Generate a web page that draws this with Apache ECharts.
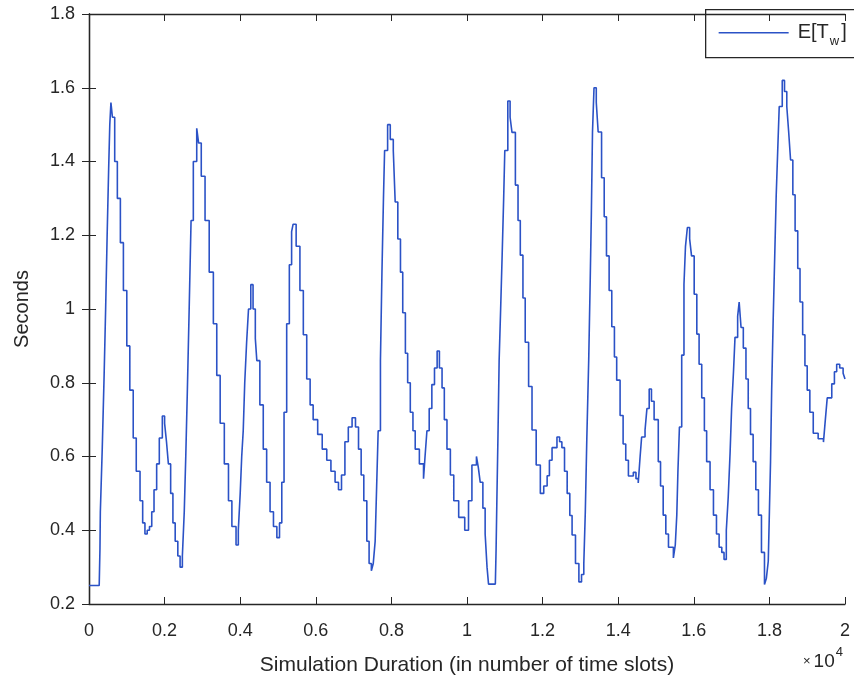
<!DOCTYPE html>
<html>
<head>
<meta charset="utf-8">
<script src="https://cdn.jsdelivr.net/npm/echarts@6/dist/echarts.min.js"></script>
<style>html,body{margin:0;padding:0;background:#fff}#c{width:854px;height:688px}</style>
</head>
<body>
<div id="c"></div>
<script>
// x in units of 10^4 time slots
const xTicks = [0,0.2,0.4,0.6,0.8,1,1.2,1.4,1.6,1.8,2];
const yTicks = [0.2,0.4,0.6,0.8,1,1.2,1.4,1.6,1.8];
const xs = [0,0.027,0.029,0.03,0.035,0.04,0.044,0.048,0.052,0.055,0.058,0.062,0.068,0.075,0.083,0.091,0.10,0.108,0.117,0.125,0.135,0.142,0.148,0.154,0.16,0.166,0.172,0.179,0.186,0.194,0.2,0.205,0.21,0.216,0.222,0.228,0.235,0.241,0.247,0.252,0.256,0.26,0.265,0.27,0.276,0.285,0.29,0.297,0.307,0.318,0.329,0.338,0.347,0.358,0.369,0.378,0.389,0.395,0.40,0.404,0.408,0.412,0.417,0.422,0.428,0.434,0.44,0.444,0.452,0.461,0.47,0.479,0.488,0.497,0.504,0.51,0.516,0.523,0.53,0.536,0.54,0.548,0.558,0.567,0.576,0.585,0.593,0.605,0.617,0.629,0.64,0.651,0.66,0.668,0.677,0.686,0.696,0.705,0.713,0.72,0.727,0.735,0.741,0.747,0.752,0.757,0.761,0.765,0.771,0.775,0.779,0.782,0.79,0.797,0.805,0.81,0.817,0.824,0.83,0.837,0.843,0.85,0.857,0.863,0.874,0.885,0.889,0.894,0.9,0.907,0.914,0.921,0.927,0.934,0.94,0.947,0.956,0.965,0.978,0.994,1.004,1.013,1.025,1.03,1.035,1.042,1.048,1.053,1.057,1.075,1.077,1.079,1.082,1.085,1.089,1.093,1.097,1.10,1.108,1.114,1.119,1.128,1.135,1.141,1.148,1.154,1.163,1.172,1.183,1.194,1.203,1.212,1.218,1.225,1.238,1.245,1.251,1.258,1.265,1.272,1.278,1.287,1.296,1.303,1.309,1.313,1.317,1.322,1.326,1.329,1.332,1.336,1.342,1.347,1.356,1.363,1.369,1.376,1.383,1.39,1.396,1.405,1.413,1.42,1.427,1.44,1.447,1.453,1.458,1.462,1.471,1.476,1.482,1.488,1.495,1.506,1.512,1.519,1.526,1.533,1.546,1.551,1.555,1.558,1.562,1.568,1.574,1.578,1.583,1.589,1.594,1.601,1.608,1.614,1.621,1.628,1.634,1.643,1.652,1.66,1.667,1.674,1.68,1.686,1.691,1.696,1.70,1.705,1.709,1.716,1.72,1.725,1.731,1.738,1.744,1.75,1.757,1.764,1.771,1.779,1.787,1.792,1.797,1.80,1.803,1.806,1.81,1.814,1.818,1.822,1.826,1.834,1.84,1.846,1.851,1.856,1.862,1.868,1.875,1.881,1.888,1.894,1.9,1.907,1.916,1.929,1.943,1.948,1.953,1.965,1.972,1.978,1.986,1.995,2.0];
const ys = [0.25,0.25,0.35,0.45,0.62,0.82,1.0,1.2,1.38,1.5,1.56,1.52,1.40,1.30,1.18,1.05,0.90,0.78,0.65,0.56,0.48,0.42,0.39,0.40,0.41,0.45,0.51,0.58,0.65,0.71,0.69,0.64,0.58,0.50,0.42,0.37,0.33,0.30,0.33,0.45,0.60,0.77,1.0,1.24,1.40,1.49,1.45,1.36,1.24,1.10,0.96,0.82,0.69,0.58,0.48,0.41,0.36,0.40,0.50,0.60,0.67,0.80,0.91,1.0,1.066,1.0,0.92,0.86,0.74,0.62,0.53,0.45,0.41,0.38,0.42,0.53,0.72,0.96,1.12,1.21,1.23,1.17,1.05,0.93,0.81,0.74,0.70,0.66,0.62,0.59,0.56,0.53,0.51,0.55,0.64,0.68,0.705,0.68,0.62,0.55,0.48,0.37,0.31,0.29,0.31,0.37,0.52,0.67,0.86,1.10,1.30,1.43,1.50,1.46,1.43,1.29,1.19,1.10,0.99,0.88,0.80,0.72,0.67,0.62,0.58,0.54,0.60,0.67,0.73,0.795,0.84,0.886,0.84,0.786,0.70,0.62,0.55,0.48,0.435,0.40,0.48,0.577,0.60,0.57,0.53,0.46,0.39,0.30,0.254,0.254,0.35,0.48,0.66,0.86,1.0,1.146,1.30,1.43,1.564,1.52,1.479,1.336,1.24,1.146,1.03,0.91,0.79,0.672,0.577,0.50,0.52,0.548,0.59,0.624,0.653,0.64,0.624,0.56,0.50,0.44,0.387,0.31,0.26,0.28,0.31,0.45,0.65,0.862,1.08,1.26,1.48,1.60,1.56,1.48,1.356,1.25,1.144,1.05,0.952,0.87,0.807,0.711,0.634,0.59,0.547,0.557,0.54,0.528,0.60,0.653,0.672,0.73,0.783,0.75,0.70,0.586,0.52,0.441,0.39,0.354,0.325,0.36,0.441,0.56,0.68,0.875,1.067,1.17,1.221,1.19,1.144,1.04,0.932,0.85,0.759,0.67,0.586,0.51,0.441,0.39,0.354,0.34,0.321,0.40,0.489,0.61,0.73,0.83,0.923,0.98,1.019,0.95,0.894,0.81,0.73,0.66,0.586,0.51,0.441,0.34,0.253,0.27,0.316,0.45,0.586,0.78,0.971,1.14,1.308,1.43,1.549,1.62,1.59,1.549,1.48,1.404,1.31,1.212,1.11,1.019,0.93,0.846,0.78,0.72,0.663,0.648,0.639,0.70,0.759,0.797,0.83,0.85,0.84,0.826,0.81];
const seriesName = 'E[T_w]';

const data = xs.map((x, i) => [x, ys[i]]);
const txt = '#262626';
const lineColor = '#2b52c6';
const fmt = v => String(Math.round(v * 10) / 10);
const chart = echarts.init(document.getElementById('c'), null, {renderer: 'canvas'});
const axisBase = {
  axisLine: {show: true, lineStyle: {color: txt, width: 1.3}},
  axisTick: {show: true, inside: true, length: 7, lineStyle: {color: txt}},
  splitLine: {show: false}
};
chart.setOption({
  animation: false,
  backgroundColor: '#fff',
  textStyle: {fontFamily: 'Liberation Sans'},
  grid: {left: 89, right: 9, top: 14, bottom: 84, containLabel: false},
  xAxis: [Object.assign({
    type: 'value', min: 0, max: 2, interval: 0.2,
    axisLabel: {color: txt, fontSize: 18, margin: 18, formatter: fmt},
    name: 'Simulation Duration (in number of time slots)',
    nameLocation: 'middle', nameGap: 51,
    nameTextStyle: {color: txt, fontSize: 21}
  }, axisBase), Object.assign({
    type: 'value', min: 0, max: 2, interval: 0.2, position: 'top',
    axisLabel: {show: false}
  }, axisBase)],
  yAxis: [Object.assign({
    type: 'value', min: 0.2, max: 1.8, interval: 0.2,
    axisLabel: {color: txt, fontSize: 18, margin: 14, formatter: fmt},
    name: 'Seconds', nameLocation: 'middle', nameGap: 57, nameRotate: 90,
    nameTextStyle: {color: txt, fontSize: 20}
  }, axisBase), Object.assign({
    type: 'value', min: 0.2, max: 1.8, interval: 0.2, position: 'right',
    axisLabel: {show: false}
  }, axisBase)],
  graphic: [{
    type: 'text', left: 803, top: 646,
    style: {
      text: '{m|×}{n|10}{s|4}',
      rich: {
        m: {fontSize: 13, fill: txt, fontFamily: 'Liberation Sans', padding: [6, 3, 0, 0]},
        n: {fontSize: 19, fill: txt, fontFamily: 'Liberation Sans', padding: [6, 0, 0, 0]},
        s: {fontSize: 13, fill: txt, fontFamily: 'Liberation Sans', verticalAlign: 'top', padding: [0, 0, 10, 1]}
      }
    }
  }, {
    type: 'group', left: 705, top: 9, z: 100,
    children: [{
      type: 'rect', shape: {x: 0, y: 0, width: 152, height: 48},
      style: {fill: '#fff', stroke: txt, lineWidth: 1.3}
    }, {
      type: 'line', shape: {x1: 13, y1: 23, x2: 83, y2: 23},
      style: {stroke: lineColor, lineWidth: 1.5}
    }, {
      type: 'text', x: 92, y: 23,
      style: {
        text: '{a|E[T}{b|w}{a|]}', verticalAlign: 'middle', fill: txt,
        rich: {
          a: {fontSize: 20, fill: txt, fontFamily: 'Liberation Sans'},
          b: {fontSize: 13, fill: txt, fontFamily: 'Liberation Sans', padding: [17, 2, 0, 1]}
        }
      }
    }]
  }],
  series: [{
    name: seriesName, type: 'line', step: 'end',
    data: data, showSymbol: false, symbol: 'none',
    lineStyle: {color: lineColor, width: 1.6},
    itemStyle: {color: lineColor}
  }]
});
</script>
</body>
</html>
